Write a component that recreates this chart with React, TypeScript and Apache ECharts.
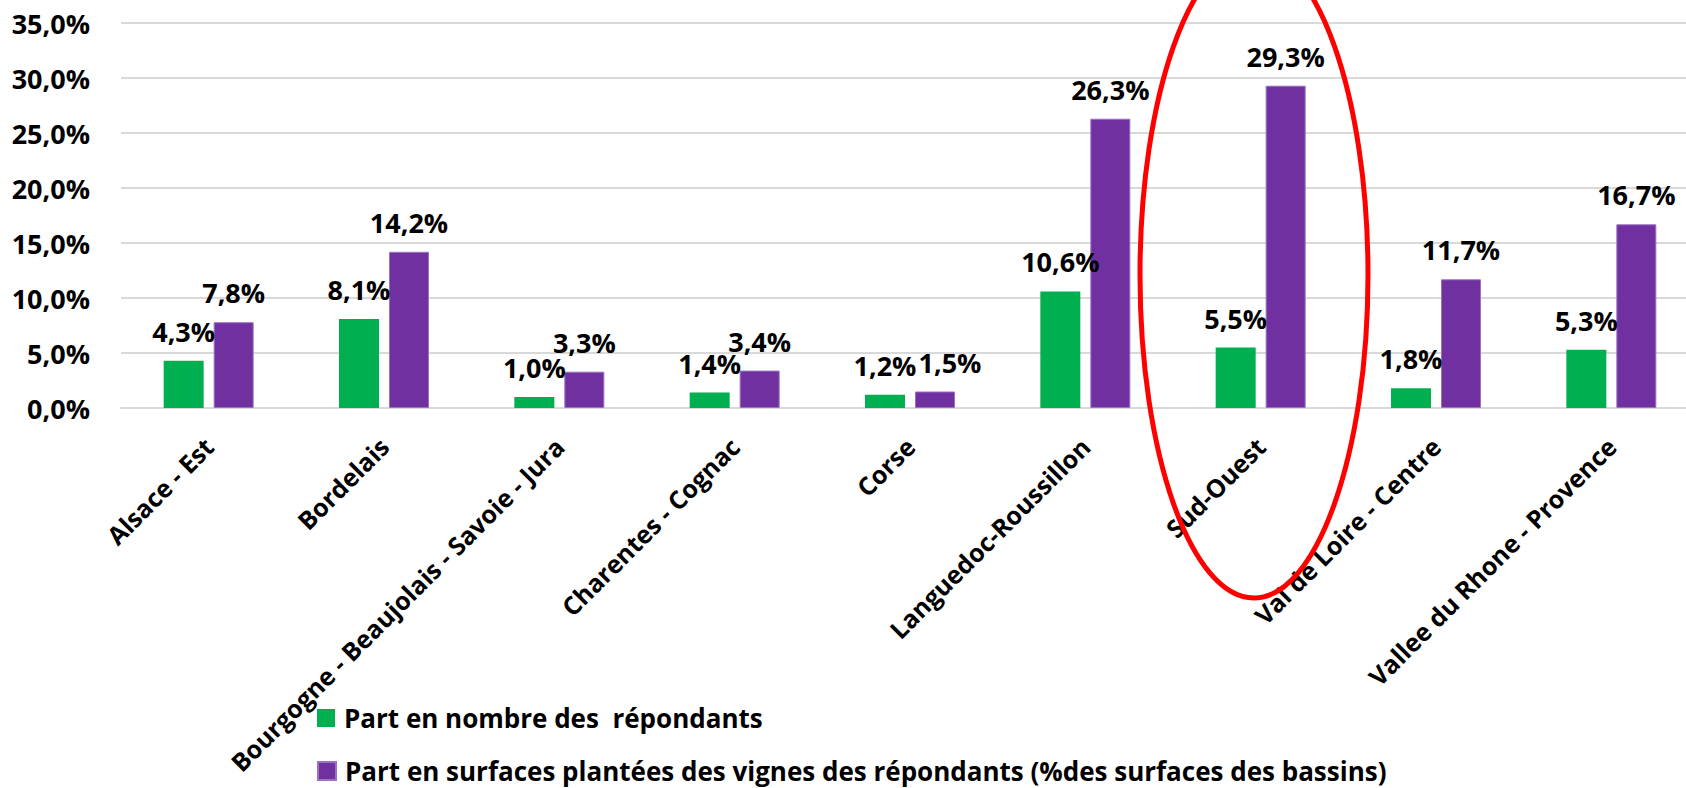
import React, { useEffect, useRef } from "react";
import * as echarts from "echarts";

const categories = [
  "Alsace - Est",
  "Bordelais",
  "Bourgogne - Beaujolais - Savoie - Jura",
  "Charentes - Cognac",
  "Corse",
  "Languedoc-Roussillon",
  "Sud-Ouest",
  "Val de Loire - Centre",
  "Vallee du Rhone - Provence",
];
const partNombre = [4.3, 8.1, 1.0, 1.4, 1.2, 10.6, 5.5, 1.8, 5.3];
const partSurfaces = [7.8, 14.2, 3.3, 3.4, 1.5, 26.3, 29.3, 11.7, 16.7];
const seriesNames = [
  "Part en nombre des  répondants",
  "Part en surfaces plantées des vignes des répondants (%des surfaces des bassins)",
];

const FONT = "'Open Sans', 'Noto Sans', sans-serif";
const fmt = (v: number) => v.toFixed(1).replace(".", ",") + "%";

export default function App() {
  const ref = useRef<HTMLDivElement>(null);
  useEffect(() => {
    if (!ref.current) return;
    const chart = echarts.init(ref.current, null, { renderer: "svg" });
    const label = {
      show: true,
      position: "top" as const,
      distance: 16,
      formatter: (p: any) => fmt(p.value),
      fontFamily: FONT,
      fontWeight: "bold" as const,
      fontSize: 27,
      color: "#000",
    };
    const legendBase = {
      orient: "horizontal",
      left: 317,
      padding: 0,
      itemWidth: 18,
      itemHeight: 18,
      icon: "rect",
      textStyle: {
        fontFamily: FONT,
        fontWeight: "bold",
        fontSize: 26,
        color: "#000",
        lineHeight: 30,
        padding: [0, 0, 0, 4],
      },
    };
    chart.setOption({
      animation: false,
      backgroundColor: "#fff",
      grid: { left: 121, top: 23, width: 1578, height: 385, containLabel: false },
      legend: [
        { ...legendBase, top: 703, data: [seriesNames[0]] },
        { ...legendBase, top: 756, data: [seriesNames[1]] },
      ],
      xAxis: {
        type: "category",
        data: categories,
        axisLine: { show: true, lineStyle: { color: "#d9d9d9", width: 2 } },
        axisTick: { show: false },
        axisLabel: {
          interval: 0,
          rotate: 45,
          margin: 34,
          fontFamily: FONT,
          fontWeight: "bold",
          fontSize: 25,
          color: "#000",
        },
      },
      yAxis: {
        type: "value",
        min: 0,
        max: 35,
        interval: 5,
        axisLine: { show: false },
        axisTick: { show: false },
        splitLine: { lineStyle: { color: "#d9d9d9", width: 2 } },
        axisLabel: {
          margin: 31,
          formatter: (v: number) => fmt(v),
          fontFamily: FONT,
          fontWeight: "bold",
          fontSize: 27,
          color: "#000",
        },
      },
      series: [
        {
          name: seriesNames[0],
          type: "bar",
          data: partNombre,
          barWidth: 40,
          barGap: "25%",
          itemStyle: { color: "#00b050" },
          label,
        },
        {
          name: seriesNames[1],
          type: "bar",
          data: partSurfaces.map((v, i) =>
            categories[i] === "Corse" ? { value: v, label: { offset: [15, 0] } } : v
          ),
          barWidth: 40,
          barGap: "25%",
          itemStyle: { color: "#7030a0", borderColor: "#9a72c0", borderWidth: 1 },
          label,
        },
      ],
      graphic: [
        {
          type: "ellipse",
          z: 100,
          shape: { cx: 1254, cy: 275, rx: 114, ry: 323 },
          style: { fill: "none", stroke: "#ff0000", lineWidth: 5 },
        },
      ],
    });
    return () => chart.dispose();
  }, []);
  return (
    <div
      style={{
        position: "fixed",
        left: 0,
        top: 0,
        width: 1686,
        height: 788,
        overflow: "hidden",
        background: "#fff",
      }}
    >
      <div ref={ref} style={{ width: 1720, height: 788 }} />
    </div>
  );
}
